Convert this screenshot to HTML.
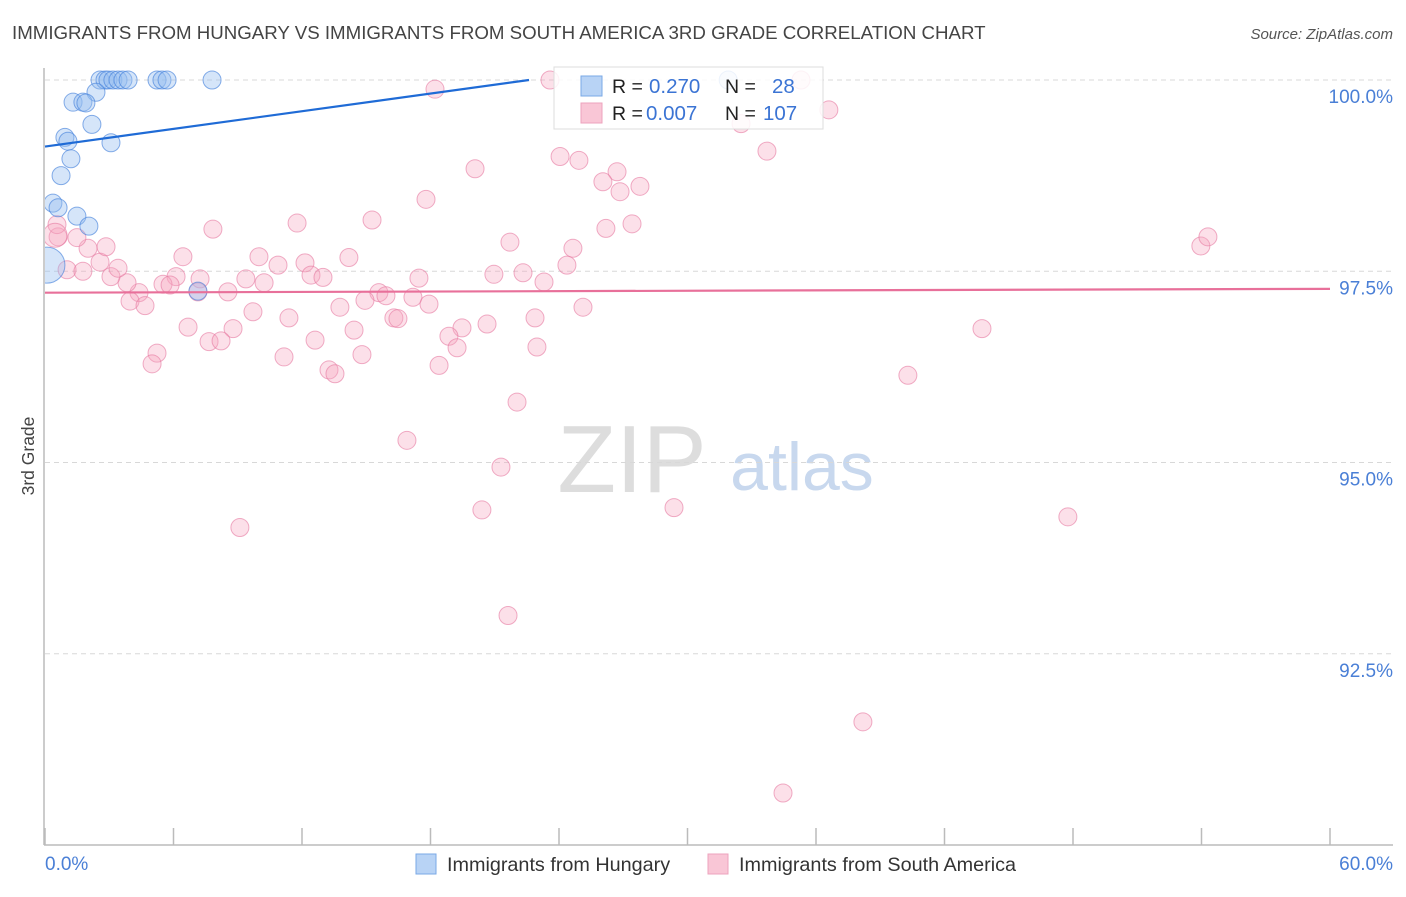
<!DOCTYPE html>
<html><head><meta charset="utf-8">
<style>
body{margin:0;background:#fff;font-family:"Liberation Sans",sans-serif;}
svg text{font-family:"Liberation Sans",sans-serif;}
</style></head>
<body>
<svg id="chart" width="1406" height="892" xmlns="http://www.w3.org/2000/svg">
<defs><clipPath id="plotclip"><rect x="45" y="60" width="1360" height="785"/></clipPath></defs>
<text x="12" y="39" font-size="18.7" fill="#444">IMMIGRANTS FROM HUNGARY VS IMMIGRANTS FROM SOUTH AMERICA 3RD GRADE CORRELATION CHART</text>
<text x="1393" y="39" font-size="15" fill="#555" font-style="italic" text-anchor="end">Source: ZipAtlas.com</text>
<text transform="translate(34,456) rotate(-90)" font-size="17.5" fill="#444" text-anchor="middle">3rd Grade</text>
<g>
<text x="632" y="492" font-size="96" fill="#ddd" text-anchor="middle" font-family="Liberation Serif, serif">ZIP</text>
<text x="802" y="490" font-size="68" fill="#c8d8ee" text-anchor="middle">atlas</text>
</g>
<g id="grid"></g>
<g id="axes"></g>
<g id="points" clip-path="url(#plotclip)"></g>
<g id="lines"></g>
<g>
<rect x="554" y="67" width="269" height="62" fill="#fff" fill-opacity="0.85" stroke="#ddd"/>
<rect x="581" y="76" width="21" height="20" fill="#b8d3f5" stroke="#7aa8e6"/>
<rect x="581" y="103" width="21" height="20" fill="#f9c6d6" stroke="#eda3bd"/>
<text x="612" y="93" font-size="19.5" fill="#222">R = </text>
<text x="649" y="93" font-size="20.5" fill="#3b74d4">0.270</text>
<text x="725" y="93" font-size="19.5" fill="#222">N = </text>
<text x="772" y="93" font-size="20.5" fill="#3b74d4">28</text>
<text x="612" y="120" font-size="19.5" fill="#222">R = </text>
<text x="646" y="120" font-size="20.5" fill="#3b74d4">0.007</text>
<text x="725" y="120" font-size="19.5" fill="#222">N = </text>
<text x="763" y="120" font-size="20.5" fill="#3b74d4">107</text>
</g>
<g>
<rect x="416" y="854" width="20" height="20" fill="#b8d3f5" stroke="#7aa8e6"/>
<text x="447" y="871" font-size="19.8" fill="#333">Immigrants from Hungary</text>
<rect x="708" y="854" width="20" height="20" fill="#f9c6d6" stroke="#eda3bd"/>
<text x="739" y="871" font-size="19.8" fill="#333">Immigrants from South America</text>
</g>
</svg>
<script>
const yTicks=[100,97.5,95,92.5];
const yTickLabels=["100.0%","97.5%","95.0%","92.5%"];
const xTickValues=[0,6,12,18,24,30,36,42,48,54,60];
const xEndLabels=["0.0%","60.0%"];
const hungaryX=[2.57,2.80,2.94,3.17,3.41,3.64,3.88,5.23,5.46,5.70,7.80,2.38,1.31,1.77,1.91,2.19,0.93,1.07,3.08,1.21,0.75,0.37,0.61,1.49,2.05,0.09,7.14,31.9];
const hungaryY=[100,100,100,100,100,100,100,100,100,100,100,99.84,99.71,99.71,99.70,99.42,99.25,99.20,99.18,98.97,98.75,98.39,98.33,98.22,98.09,97.58,97.24,100];
const hungaryR=[9,9,9,9,9,9,9,9,9,9,9,9,9,9,9,9,9,9,9,9,9,9,9,9,9,18,9,9];
const saX=[23.58,18.21,35.30,32.50,36.60,33.71,24.05,24.93,20.08,26.71,26.05,26.85,27.78,17.79,27.41,26.19,15.27,11.77,7.84,21.71,24.65,53.97,54.30,6.44,9.99,14.19,12.14,10.88,24.37,20.96,22.32,23.30,17.46,12.42,12.98,9.38,10.23,7.24,6.12,5.51,5.84,4.39,3.83,3.08,3.41,2.57,2.01,2.85,1.49,0.61,0.56,1.03,1.77,3.97,4.67,7.14,8.54,15.59,15.92,17.18,17.93,14.94,13.77,9.71,11.39,16.29,16.48,22.88,25.12,20.64,19.47,18.86,6.68,8.78,12.61,7.66,8.22,14.43,19.24,22.97,5.23,5.00,11.16,14.80,18.40,13.26,13.54,43.75,40.29,22.04,16.90,21.29,9.10,20.40,29.37,47.76,21.62,38.19,34.46,0.47];
const saY=[100,99.88,100,99.43,99.61,99.07,99.00,98.95,98.84,98.80,98.67,98.54,98.61,98.44,98.12,98.06,98.17,98.13,98.05,97.88,97.80,97.83,97.95,97.69,97.69,97.68,97.61,97.58,97.58,97.46,97.48,97.36,97.41,97.45,97.42,97.40,97.35,97.40,97.43,97.33,97.32,97.22,97.35,97.43,97.54,97.62,97.80,97.82,97.94,97.95,98.11,97.52,97.50,97.11,97.05,97.23,97.23,97.22,97.18,97.16,97.07,97.12,97.03,96.97,96.89,96.89,96.88,96.89,97.03,96.81,96.76,96.65,96.77,96.75,96.60,96.58,96.59,96.73,96.50,96.51,96.43,96.29,96.38,96.41,96.27,96.21,96.16,96.75,96.14,95.79,95.29,94.94,94.15,94.38,94.41,94.29,93.00,91.61,90.68,97.97];
const hungaryTrend=[[0,99.13],[22.6,100]];
const saTrend=[[0,97.22],[60,97.27]];

const NS="http://www.w3.org/2000/svg";
const X0=45,X1=1330,YTOP=80,PX_PER=76.5;
function sx(v){return X0+(v/60)*(X1-X0);}
function sy(v){return YTOP+(100-v)*PX_PER;}
function mk(tag,attrs,parent){const e=document.createElementNS(NS,tag);for(const k in attrs)e.setAttribute(k,attrs[k]);parent.appendChild(e);return e;}

const grid=document.getElementById('grid');
yTicks.forEach((t,i)=>{
  const l=mk('line',{x1:45,x2:1393,y1:sy(t),y2:sy(t),stroke:'#d8d8d8','stroke-dasharray':'5,4'},grid);
  
  
  const tx=mk('text',{x:1393,y:sy(t)+23,'font-size':19,fill:'#4a7fd6','text-anchor':'end'},grid);
  tx.textContent=yTickLabels[i];
  
  
});
const axes=document.getElementById('axes');
const ya=mk('line',{x1:44,x2:44,y1:68,y2:845,stroke:'#bbb','stroke-width':1.5},axes);


const xa=mk('line',{x1:44,x2:1393,y1:845,y2:845,stroke:'#bbb','stroke-width':1.5},axes);


xTickValues.forEach(v=>{
  const t=mk('line',{x1:sx(v),x2:sx(v),y1:828,y2:845,stroke:'#bbb','stroke-width':1.5},axes);
  
  
});
const xl0=mk('text',{x:45,y:870,'font-size':19,fill:'#4a7fd6'},axes);
xl0.textContent=xEndLabels[0];


const xl1=mk('text',{x:1393,y:870,'font-size':19,fill:'#4a7fd6','text-anchor':'end'},axes);
xl1.textContent=xEndLabels[1];



const pts=document.getElementById('points');
saX.forEach((v,i)=>{
  const r=(i===saX.length-1)?12:9;
  const c=mk('circle',{cx:sx(v),cy:sy(saY[i]),r:r,fill:'rgba(245,165,192,0.35)',stroke:'rgba(230,120,160,0.6)','stroke-width':1},pts);
  
  
});
hungaryX.forEach((v,i)=>{
  const c=mk('circle',{cx:sx(v),cy:sy(hungaryY[i]),r:hungaryR[i],fill:'rgba(150,190,240,0.4)',stroke:'rgba(70,130,220,0.65)','stroke-width':1},pts);
  
  
});
const lines=document.getElementById('lines');
const bl=mk('line',{x1:sx(hungaryTrend[0][0]),y1:sy(hungaryTrend[0][1]),x2:sx(hungaryTrend[1][0]),y2:sy(hungaryTrend[1][1]),stroke:'#1f6bd6','stroke-width':2.2},lines);


const pl=mk('line',{x1:sx(saTrend[0][0]),y1:sy(saTrend[0][1]),x2:sx(saTrend[1][0]),y2:sy(saTrend[1][1]),stroke:'#e8709a','stroke-width':2.2},lines);


</script>
</body></html>
